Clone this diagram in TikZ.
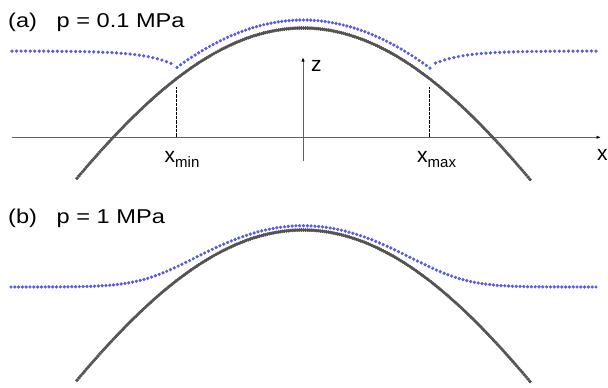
\documentclass[tikz,border=0pt]{standalone}
\usepackage{fontspec}
\setmainfont{Liberation Sans}
\usetikzlibrary{arrows.meta}
\definecolor{dotblue}{RGB}{88,88,236}
\definecolor{dotgray}{RGB}{82,82,82}
\newcommand\hstretch[1]{\scalebox{1.18}[1]{#1}}
\begin{document}
\begin{tikzpicture}[x=1pt,y=-1pt,
  axis/.style={draw=black!62, line width=0.9pt, -{Latex[length=4.5pt,width=3.4pt,color=black]}},
  guide/.style={draw=black, line width=0.6pt, dash pattern=on 0.6pt off 0.7pt},
  graydots/.style={only marks, mark=*, mark size=1.6pt, color=dotgray},
  bluedots/.style={only marks, mark=*, mark size=1.45pt, color=dotblue},
  title/.style={anchor=base west, inner sep=0pt, font=\fontsize{20}{24}\selectfont},
  axlab/.style={anchor=base west, inner sep=0pt, font=\fontsize{21}{24}\selectfont},
]
\useasboundingbox (0,0) rectangle (608,388);

% ---------- panel (a) ----------
\node[title] (ta) at (8,27.7) {\hstretch{(a)~~~p = 0.1 MPa}};

\coordinate (xs) at (12,137.3);
\coordinate (xe) at (601,137.3);
\coordinate (zs) at (303,161);
\coordinate (ze) at (303,57);
\draw[axis] (xs) -- (xe);
\draw[axis] (zs) -- (ze);
\node[axlab] (xl) at (597,160) {x};
\node[axlab] (zl) at (311,71) {z};

\coordinate (mint) at (176.5,87);
\coordinate (minb) at (176.5,137.3);
\coordinate (maxt) at (429.5,87);
\coordinate (maxb) at (429.5,137.3);
\draw[guide] (mint) -- (minb);
\draw[guide] (maxt) -- (maxb);
\node[axlab] (xmin) at (164.5,162) {x\raisebox{-5.5pt}{\fontsize{15}{17}\selectfont min}};
\node[axlab] (xmax) at (417,162) {x\raisebox{-5.5pt}{\fontsize{15}{17}\selectfont max}};

% gray profile (a)
\draw[graydots] plot[samples=239, domain=77:530]
  (\x, {28+262*(1-cos(deg((\x-303)/200)))});
% blue profile (a)
\draw[bluedots] plot[samples=36, domain=12:171]
  (\x, {51+2.3*exp((\x-121.7)/29.3)});
\draw[bluedots] plot[samples=36, domain=435.5:596]
  (\x, {51+2.3*exp((484.3-\x)/29.3)});
\draw[bluedots] plot[samples=71, domain=177:430]
  (\x, {20-3*((\x-303)/126)^2+262*(1-cos(deg((\x-303)/200)))});

% ---------- panel (b) ----------
\node[title] (tb) at (8,223.3) {\hstretch{(b)~~~p = 1 MPa}};

\draw[graydots] plot[samples=239, domain=77:530]
  (\x, {230+262*(1-cos(deg((\x-303)/200)))});
\draw[bluedots] plot[samples=155, domain=11:596]
  (\x, {287-21.6*ln(1+exp((287-(227+262*(1-cos(deg((\x-303)/200)))))/21.6))});
\end{tikzpicture}
\end{document}
